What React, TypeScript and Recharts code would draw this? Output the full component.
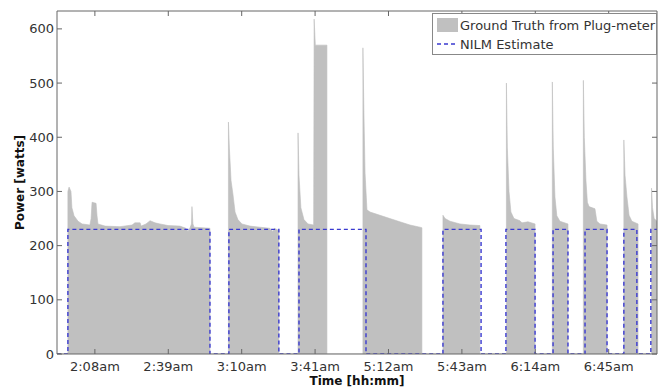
import React from 'react';
import { ComposedChart, Area, Line, XAxis, YAxis } from 'recharts';

// time axis in minutes (compressed timeline, starting 16 min before 2:08am)
const gtTime = [
  0, 4.6, 4.6, 5.1, 5.9, 6.3, 7.2, 8.9, 10.6, 13.9, 14.4, 14.8, 16.5, 16.9, 17.3, 20.3, 26.6, 31.7, 32.9, 35.1,
  35.5, 37.6, 39.3, 41.4, 43.5, 46.9, 51.9, 54.5, 55.3, 56.2, 56.8, 57.0, 57.4, 57.9, 64.6, 64.6,
  72.4, 72.4, 72.8, 73.5, 74.3, 75.2, 76.4, 78.1, 81.5, 85.7, 89.9, 91.2, 91.8, 93.7, 93.7,
  101.8, 101.8, 102.2, 103.0, 104.3, 106.0, 108.4, 108.6, 109.1, 114.0, 114.0,
  129.2, 129.2, 129.6, 130.1, 130.9, 132.2, 136.4, 140.6, 144.8, 149.1, 153.3, 154.1, 154.1,
  163.0, 163.0, 163.9, 166.0, 170.2, 174.4, 178.6, 178.6,
  189.8, 189.8, 190.2, 190.9, 191.7, 193.0, 195.5, 196.4, 198.9, 201.9, 201.9,
  209.2, 209.2, 209.6, 210.3, 211.1, 212.4, 215.8, 215.8,
  222.3, 222.3, 222.7, 223.4, 224.0, 224.7, 227.2, 228.0, 229.3, 232.3, 232.3,
  239.4, 239.4, 239.9, 240.7, 241.6, 242.8, 245.4, 245.4,
  251.1, 251.1, 251.5, 252.2, 253.4,
];
const gtPower = [
  0, 0, 300, 308, 300, 270, 255, 245, 240, 238, 250, 280, 278, 255, 240, 236, 235, 238, 242, 242,
  236, 240, 246, 242, 240, 237, 236, 232, 226, 233, 240, 272, 240, 234, 232, 0,
  0, 428, 380, 320, 295, 262, 248, 240, 236, 234, 232, 226, 232, 228, 0,
  0, 408, 330, 270, 248, 240, 238, 618, 570, 570, 0,
  0, 565, 450, 334, 266, 262, 256, 250, 244, 238, 234, 233, 0,
  0, 256, 250, 245, 240, 238, 237, 0,
  0, 500, 380, 300, 262, 250, 246, 242, 244, 240, 0,
  0, 502, 380, 290, 255, 245, 240, 0,
  0, 505, 400, 320, 280, 272, 268, 245, 240, 238, 0,
  0, 395, 330, 290, 256, 245, 240, 0,
  0, 306, 270, 250, 245,
];

const nilmTime = [
  0, 4.6, 4.6, 64.6, 64.6, 72.6, 72.6, 93.7, 93.7, 102.2, 102.2, 130.5, 130.5, 163.0, 163.0, 179.1, 179.1,
  189.6, 189.6, 201.9, 201.9, 209.5, 209.5, 215.8, 215.8, 223.0, 223.0, 232.3, 232.3, 239.4, 239.4,
  244.9, 244.9, 250.8, 250.8, 253.4,
];
const nilmPower = [
  0, 0, 230, 230, 0, 0, 230, 230, 0, 0, 230, 230, 0, 0, 230, 230, 0,
  0, 230, 230, 0, 0, 230, 230, 0, 0, 230, 230, 0, 0, 230,
  230, 0, 0, 230, 230,
];

const tickTimes = [16, 47, 78, 109, 140, 171, 202, 233];
const tickLabels = ['2:08am', '2:39am', '3:10am', '3:41am', '5:12am', '5:43am', '6:14am', '6:45am'];
const powerTicks = [0, 100, 200, 300, 400, 500, 600];
const timeDomain = [0, 253.4];
const powerDomain = [0, 633];

const gtData = gtTime.map((t, i) => ({ t, p: gtPower[i] }));
const nilmData = nilmTime.map((t, i) => ({ t, p: nilmPower[i] }));

const AX = '#666';
const FONT = '"DejaVu Sans", Arial, sans-serif';
const TXT = '#333';

const LeftTick = (props: any) => {
  const { x, y, payload } = props;
  return (
    <g>
      <line x1={x} x2={x + 5} y1={y} y2={y} stroke={AX} />
      <text x={x - 3} y={y} dy={4.5} textAnchor="end" fontSize={13} fill={TXT} fontFamily={FONT}>
        {payload.value}
      </text>
    </g>
  );
};

const RightTick = (props: any) => {
  const { x, y } = props;
  return <line x1={x} x2={x - 5} y1={y} y2={y} stroke={AX} />;
};

const BottomTick = (props: any) => {
  const { x, y, payload } = props;
  const idx = tickTimes.indexOf(payload.value);
  return (
    <g>
      <line x1={x} x2={x} y1={y} y2={y - 5} stroke={AX} />
      <text x={x} y={y} dy={17} textAnchor="middle" fontSize={13} fill={TXT} fontFamily={FONT}>
        {idx >= 0 ? tickLabels[idx] : ''}
      </text>
    </g>
  );
};

const TopTick = (props: any) => {
  const { x, y } = props;
  return <line x1={x} x2={x} y1={y} y2={y + 5} stroke={AX} />;
};

const XTitle = (props: any) => {
  const vb = props.viewBox;
  return (
    <text x={vb.x + vb.width / 2} y={vb.y + 30.5} textAnchor="middle" fontSize={12} fontWeight="bold" fill="#111" fontFamily={FONT}>
      Time [hh:mm]
    </text>
  );
};

const YTitle = (props: any) => {
  const vb = props.viewBox;
  const cx = vb.x + 24;
  const cy = vb.y + vb.height / 2;
  return (
    <text x={cx} y={cy} transform={`rotate(-90, ${cx}, ${cy})`} textAnchor="middle" fontSize={12} fontWeight="bold" fill="#111" fontFamily={FONT}>
      Power [watts]
    </text>
  );
};

export default function App() {
  return (
    <div style={{ position: 'relative', width: 660, height: 387, background: '#fff' }}>
      <style>{'body{margin:0;overflow:hidden;}'}</style>
      <ComposedChart width={660} height={387} margin={{ top: 0, right: 0, bottom: 0, left: 0 }}>
        <XAxis
          xAxisId={0}
          type="number"
          dataKey="t"
          domain={timeDomain}
          ticks={tickTimes}
          allowDataOverflow
          height={33}
          stroke={AX}
          tickLine={false}
          tickSize={0}
          tickMargin={0}
          tick={BottomTick}
          interval={0}
          label={<XTitle />}
        />
        <XAxis
          xAxisId="top"
          orientation="top"
          type="number"
          dataKey="t"
          domain={timeDomain}
          ticks={tickTimes}
          allowDataOverflow
          height={11}
          stroke={AX}
          tickLine={false}
          tickSize={0}
          tickMargin={0}
          tick={TopTick}
          interval={0}
        />
        <YAxis
          yAxisId={0}
          type="number"
          domain={powerDomain}
          ticks={powerTicks}
          allowDataOverflow
          width={57}
          stroke={AX}
          tickLine={false}
          tickSize={0}
          tickMargin={0}
          tick={LeftTick}
          interval={0}
          label={<YTitle />}
        />
        <YAxis
          yAxisId="r"
          orientation="right"
          type="number"
          domain={powerDomain}
          ticks={powerTicks}
          allowDataOverflow
          width={3}
          stroke={AX}
          tickLine={false}
          tickSize={0}
          tickMargin={0}
          tick={RightTick}
          interval={0}
        />
        <Area
          data={gtData}
          dataKey="p"
          type="linear"
          fill="#c0c0c0"
          fillOpacity={1}
          stroke="#bdbdbd"
          strokeWidth={0.6}
          isAnimationActive={false}
          dot={false}
          activeDot={false}
        />
        <Line
          data={nilmData}
          dataKey="p"
          type="linear"
          stroke="#3a3ad0"
          strokeWidth={1.4}
          strokeDasharray="4 3"
          dot={false}
          activeDot={false}
          isAnimationActive={false}
        />
      </ComposedChart>
      <svg width={226} height={43} style={{ position: 'absolute', left: 432, top: 13 }}>
        <rect x={0.5} y={0.5} width={224} height={41} fill="#fff" stroke="#888" />
        <rect x={5} y={5} width={21} height={14} fill="#c0c0c0" />
        <text x={28} y={16.5} fontSize={13} fill={TXT} fontFamily={FONT}>Ground Truth from Plug-meter</text>
        <line x1={5} x2={26} y1={31} y2={31} stroke="#3a3ad0" strokeWidth={1.4} strokeDasharray="4 3" />
        <text x={28} y={35.5} fontSize={13} fill={TXT} fontFamily={FONT}>NILM Estimate</text>
      </svg>
    </div>
  );
}
